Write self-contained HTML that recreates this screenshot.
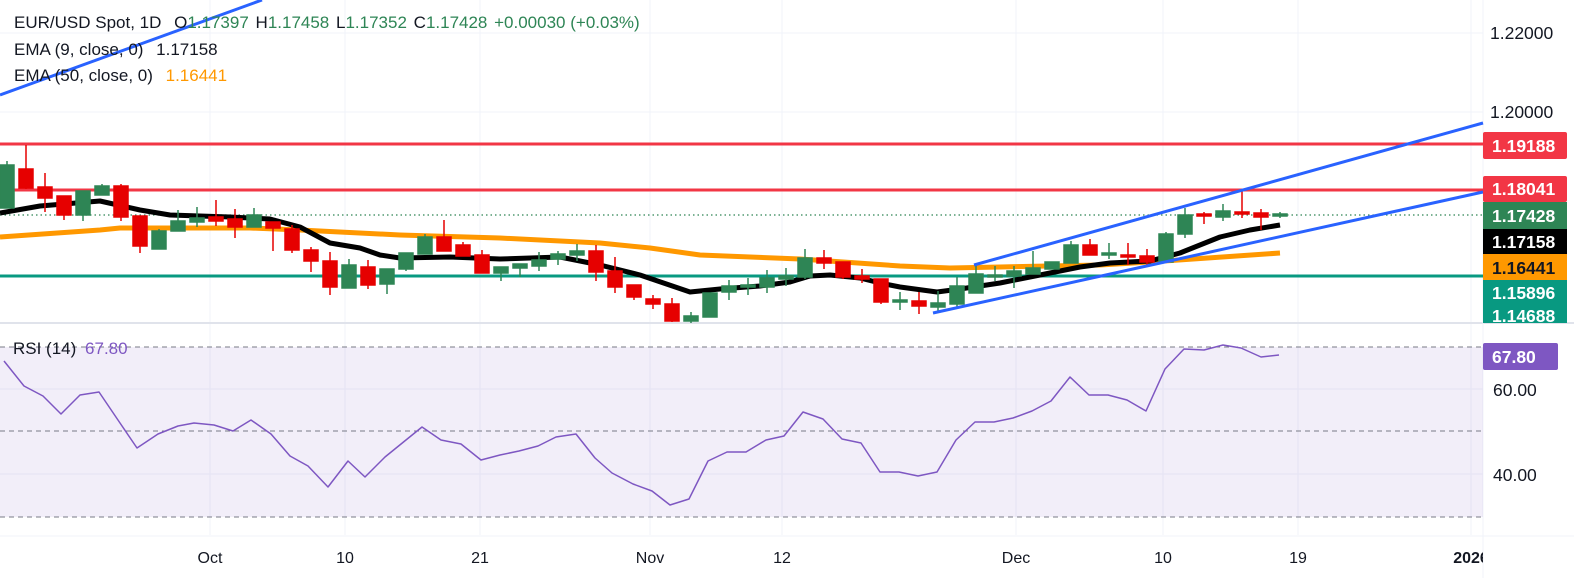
<!DOCTYPE html>
<html><head><meta charset="utf-8"><style>
html,body{margin:0;padding:0;background:#fff;}
svg{display:block;font-family:"Liberation Sans",sans-serif;}
</style></head><body>
<svg width="1574" height="578" viewBox="0 0 1574 578" xmlns="http://www.w3.org/2000/svg">
<rect width="1574" height="578" fill="#fff"/>
<g stroke="#f0f3fa" stroke-width="1">
<line x1="0" y1="33" x2="1483" y2="33"/><line x1="0" y1="112" x2="1483" y2="112"/>
<line x1="0" y1="389" x2="1483" y2="389"/><line x1="0" y1="474" x2="1483" y2="474"/>
<line x1="210" y1="0" x2="210" y2="535"/><line x1="345" y1="0" x2="345" y2="535"/>
<line x1="480" y1="0" x2="480" y2="535"/><line x1="650" y1="0" x2="650" y2="535"/>
<line x1="782" y1="0" x2="782" y2="535"/><line x1="1016" y1="0" x2="1016" y2="535"/>
<line x1="1163" y1="0" x2="1163" y2="535"/><line x1="1298" y1="0" x2="1298" y2="535"/>
<line x1="1471" y1="0" x2="1471" y2="535"/>
</g>
<line x1="0" y1="323" x2="1574" y2="323" stroke="#e0e3eb" stroke-width="2"/>
<line x1="0" y1="536" x2="1574" y2="536" stroke="#f0f3fa" stroke-width="1"/>
<line x1="1483" y1="0" x2="1483" y2="578" stroke="#f0f3fa" stroke-width="1"/>

<line x1="0" y1="144" x2="1483" y2="144" stroke="#f23645" stroke-width="3"/>
<line x1="0" y1="190" x2="1483" y2="190" stroke="#f23645" stroke-width="3"/>
<line x1="0" y1="276" x2="1483" y2="276" stroke="#089981" stroke-width="3"/>
<line x1="0" y1="215" x2="1483" y2="215" stroke="#2e8555" stroke-width="1.2" stroke-dasharray="1.5,3"/>

<polyline fill="none" stroke="#ff9800" stroke-width="5" stroke-linejoin="round" points="0,237 100,230 120,228 250,228 300,230 400,235 500,238 600,243 650,248 700,255 800,259 900,266 950,268 1000,267 1100,265 1150,262 1280,253"/>
<polyline fill="none" stroke="#000" stroke-width="5" stroke-linejoin="round" points="0,213 40,206 100,201 140,210 170,215 230,217 270,219 300,227 330,243 360,248 380,255 400,258 450,257 500,259 560,257 600,265 640,275 690,292 720,289 760,286 790,282 810,276 830,275 860,278 880,283 900,287 937,292 960,289 1000,283 1050,273 1080,267 1110,263 1150,261 1180,253 1220,237 1250,230 1280,225"/>

<g stroke-width="1.5">
<g fill="#2e8555" stroke="#2e8555">
<line x1="7" y1="161" x2="7" y2="208"/><rect x="0" y="165" width="14" height="43"/>
<line x1="83" y1="191" x2="83" y2="221"/><rect x="76" y="191" width="14" height="24"/>
<line x1="102" y1="184" x2="102" y2="195"/><rect x="95" y="186" width="14" height="9"/>
<line x1="159" y1="229" x2="159" y2="249"/><rect x="152" y="231" width="14" height="18"/>
<line x1="178" y1="210" x2="178" y2="231"/><rect x="171" y="221" width="14" height="10"/>
<line x1="197" y1="207" x2="197" y2="227"/><rect x="190" y="218" width="14" height="4"/>
<line x1="254" y1="208" x2="254" y2="227"/><rect x="247" y="215" width="14" height="12"/>
<line x1="349" y1="259" x2="349" y2="288"/><rect x="342" y="265" width="14" height="23"/>
<line x1="387" y1="269" x2="387" y2="294"/><rect x="380" y="269" width="14" height="15"/>
<line x1="406" y1="253" x2="406" y2="271"/><rect x="399" y="253" width="14" height="16"/>
<line x1="425" y1="234" x2="425" y2="254"/><rect x="418" y="237" width="14" height="17"/>
<line x1="501" y1="267" x2="501" y2="281"/><rect x="494" y="267" width="14" height="6"/>
<line x1="520" y1="264" x2="520" y2="277"/><rect x="513" y="264" width="14" height="4"/>
<line x1="539" y1="252" x2="539" y2="271"/><rect x="532" y="260" width="14" height="6"/>
<line x1="558" y1="251" x2="558" y2="265"/><rect x="551" y="254" width="14" height="5"/>
<line x1="577" y1="244" x2="577" y2="261"/><rect x="570" y="251" width="14" height="4"/>
<line x1="691" y1="312" x2="691" y2="323"/><rect x="684" y="316" width="14" height="5"/>
<line x1="710" y1="293" x2="710" y2="317"/><rect x="703" y="293" width="14" height="24"/>
<line x1="729" y1="280" x2="729" y2="300"/><rect x="722" y="286" width="14" height="6"/>
<line x1="748" y1="278" x2="748" y2="295"/><rect x="741" y="285" width="14" height="2"/>
<line x1="767" y1="270" x2="767" y2="293"/><rect x="760" y="278" width="14" height="9"/>
<line x1="786" y1="268" x2="786" y2="286"/><rect x="779" y="276" width="14" height="3"/>
<line x1="805" y1="249" x2="805" y2="279"/><rect x="798" y="258" width="14" height="19"/>
<line x1="900" y1="292" x2="900" y2="310"/><rect x="893" y="300" width="14" height="2"/>
<line x1="938" y1="291" x2="938" y2="311"/><rect x="931" y="303" width="14" height="4"/>
<line x1="957" y1="277" x2="957" y2="307"/><rect x="950" y="286" width="14" height="18"/>
<line x1="976" y1="266" x2="976" y2="293"/><rect x="969" y="274" width="14" height="19"/>
<line x1="995" y1="266" x2="995" y2="281"/><rect x="988" y="275" width="14" height="2"/>
<line x1="1014" y1="266" x2="1014" y2="288"/><rect x="1007" y="271" width="14" height="5"/>
<line x1="1033" y1="251" x2="1033" y2="274"/><rect x="1026" y="268" width="14" height="6"/>
<line x1="1052" y1="262" x2="1052" y2="269"/><rect x="1045" y="262" width="14" height="7"/>
<line x1="1071" y1="241" x2="1071" y2="263"/><rect x="1064" y="245" width="14" height="18"/>
<line x1="1109" y1="243" x2="1109" y2="259"/><rect x="1102" y="253" width="14" height="2"/>
<line x1="1166" y1="232" x2="1166" y2="262"/><rect x="1159" y="234" width="14" height="28"/>
<line x1="1185" y1="208" x2="1185" y2="238"/><rect x="1178" y="215" width="14" height="19"/>
<line x1="1223" y1="204" x2="1223" y2="221"/><rect x="1216" y="211" width="14" height="6"/>
<line x1="1280" y1="212" x2="1280" y2="218"/><rect x="1273" y="214" width="14" height="2"/>
</g>
<g fill="#e60000" stroke="#e60000">
<line x1="26" y1="145" x2="26" y2="189"/><rect x="19" y="169" width="14" height="19"/>
<line x1="45" y1="173" x2="45" y2="212"/><rect x="38" y="187" width="14" height="11"/>
<line x1="64" y1="196" x2="64" y2="220"/><rect x="57" y="196" width="14" height="19"/>
<line x1="121" y1="184" x2="121" y2="221"/><rect x="114" y="186" width="14" height="31"/>
<line x1="140" y1="216" x2="140" y2="253"/><rect x="133" y="216" width="14" height="30"/>
<line x1="216" y1="200" x2="216" y2="226"/><rect x="209" y="217" width="14" height="4"/>
<line x1="235" y1="209" x2="235" y2="238"/><rect x="228" y="219" width="14" height="8"/>
<line x1="273" y1="222" x2="273" y2="251"/><rect x="266" y="222" width="14" height="6"/>
<line x1="292" y1="225" x2="292" y2="253"/><rect x="285" y="229" width="14" height="21"/>
<line x1="311" y1="247" x2="311" y2="272"/><rect x="304" y="250" width="14" height="11"/>
<line x1="330" y1="252" x2="330" y2="295"/><rect x="323" y="261" width="14" height="26"/>
<line x1="368" y1="260" x2="368" y2="289"/><rect x="361" y="267" width="14" height="18"/>
<line x1="444" y1="220" x2="444" y2="251"/><rect x="437" y="237" width="14" height="14"/>
<line x1="463" y1="242" x2="463" y2="256"/><rect x="456" y="245" width="14" height="11"/>
<line x1="482" y1="250" x2="482" y2="273"/><rect x="475" y="255" width="14" height="18"/>
<line x1="596" y1="245" x2="596" y2="281"/><rect x="589" y="251" width="14" height="21"/>
<line x1="615" y1="257" x2="615" y2="293"/><rect x="608" y="271" width="14" height="16"/>
<line x1="634" y1="285" x2="634" y2="300"/><rect x="627" y="285" width="14" height="12"/>
<line x1="653" y1="295" x2="653" y2="309"/><rect x="646" y="299" width="14" height="5"/>
<line x1="672" y1="298" x2="672" y2="322"/><rect x="665" y="304" width="14" height="17"/>
<line x1="824" y1="250" x2="824" y2="269"/><rect x="817" y="258" width="14" height="5"/>
<line x1="843" y1="262" x2="843" y2="279"/><rect x="836" y="262" width="14" height="15"/>
<line x1="862" y1="269" x2="862" y2="283"/><rect x="855" y="276" width="14" height="3"/>
<line x1="881" y1="279" x2="881" y2="304"/><rect x="874" y="279" width="14" height="23"/>
<line x1="919" y1="292" x2="919" y2="314"/><rect x="912" y="301" width="14" height="5"/>
<line x1="1090" y1="239" x2="1090" y2="255"/><rect x="1083" y="245" width="14" height="10"/>
<line x1="1128" y1="243" x2="1128" y2="265"/><rect x="1121" y="255" width="14" height="2"/>
<line x1="1147" y1="249" x2="1147" y2="266"/><rect x="1140" y="256" width="14" height="6"/>
<line x1="1204" y1="212" x2="1204" y2="224"/><rect x="1197" y="214" width="14" height="2"/>
<line x1="1242" y1="190" x2="1242" y2="218"/><rect x="1235" y="212" width="14" height="2"/>
<line x1="1261" y1="209" x2="1261" y2="230"/><rect x="1254" y="213" width="14" height="4"/>
</g>
</g>

<g stroke="#2962ff" stroke-width="3">
<line x1="0" y1="95" x2="262" y2="0"/>
<line x1="974" y1="265" x2="1483" y2="123"/>
<line x1="933" y1="313" x2="1483" y2="192"/>
</g>

<g font-size="17" fill="#131722">
<text x="14" y="28">EUR/USD Spot, 1D <tspan dx="8">O</tspan><tspan fill="#2e8555">1.17397</tspan> <tspan dx="2">H</tspan><tspan fill="#2e8555">1.17458</tspan> <tspan dx="2">L</tspan><tspan fill="#2e8555">1.17352</tspan> <tspan dx="2">C</tspan><tspan fill="#2e8555">1.17428</tspan> <tspan fill="#2e8555" dx="2">+0.00030 (+0.03%)</tspan></text>
<text x="14" y="55">EMA (9, close, 0) <tspan dx="8">1.17158</tspan></text>
<text x="14" y="81">EMA (50, close, 0) <tspan dx="8" fill="#ff9800">1.16441</tspan></text>
</g>

<g font-size="17.5" fill="#131722">
<text x="1490" y="39">1.22000</text>
<text x="1490" y="118">1.20000</text>
</g>
<g font-size="17.5" font-weight="bold">
<rect x="1483" y="132" width="84" height="27" rx="2" fill="#f23645"/><text x="1492" y="152" fill="#fff">1.19188</text>
<rect x="1483" y="176" width="84" height="26" rx="2" fill="#f23645"/><text x="1492" y="195" fill="#fff">1.18041</text>
<rect x="1483" y="202" width="84" height="27" fill="#2e8555"/><text x="1492" y="222" fill="#fff">1.17428</text>
<rect x="1483" y="229" width="84" height="25" fill="#000"/><text x="1492" y="248" fill="#fff">1.17158</text>
<rect x="1483" y="254" width="84" height="26" fill="#ff9800"/><text x="1492" y="274" fill="#131722">1.16441</text>
<rect x="1483" y="280" width="84" height="43" fill="#089981"/><text x="1492" y="299" fill="#fff">1.15896</text><text x="1492" y="322" fill="#fff">1.14688</text>
</g>

<rect x="0" y="347" width="1483" height="170" fill="#7e57c2" fill-opacity="0.1"/>
<g stroke="#787b86" stroke-width="1" stroke-dasharray="5,4">
<line x1="0" y1="347" x2="1483" y2="347"/><line x1="0" y1="431" x2="1483" y2="431"/><line x1="0" y1="517" x2="1483" y2="517"/>
</g>
<polyline fill="none" stroke="#7e57c2" stroke-width="1.5" stroke-linejoin="round" points="4,361 24,386 43,396 61,414 80,395 99,392 120,423 137,448 158,434 178,426 194,423 214,425 233,431 251,420 271,434 290,456 308,466 328,487 348,461 365,477 385,457 422,427 441,440 461,444 481,460 500,455 519,451 538,446 556,437 576,434 595,458 612,473 633,484 652,491 670,505 689,499 708,461 727,452 746,452 766,440 784,436 803,412 823,419 842,439 861,443 880,472 899,472 918,476 937,472 956,440 975,422 994,422 1013,418 1032,411 1051,401 1070,377 1089,395 1108,395 1127,400 1146,411 1165,369 1184,349 1204,350 1223,345 1241,348 1261,357 1279,355"/>
<text x="13" y="354" font-size="17" fill="#131722">RSI (14) <tspan fill="#7e57c2" dx="4">67.80</tspan></text>
<rect x="1483" y="343" width="75" height="27" rx="2" fill="#7e57c2"/>
<text x="1492" y="363" font-size="17.5" font-weight="bold" fill="#fff">67.80</text>
<g font-size="17.5" fill="#131722">
<text x="1493" y="396">60.00</text>
<text x="1493" y="481">40.00</text>
</g>

<g font-size="16" fill="#131722" text-anchor="middle">
<text x="210" y="563">Oct</text><text x="345" y="563">10</text><text x="480" y="563">21</text>
<text x="650" y="563">Nov</text><text x="782" y="563">12</text><text x="1016" y="563">Dec</text>
<text x="1163" y="563">10</text><text x="1298" y="563">19</text>
</g>
<svg x="0" y="540" width="1483" height="30"><text x="1471" y="23" font-size="16" font-weight="bold" fill="#131722" text-anchor="middle">2026</text></svg>
</svg>
</body></html>
